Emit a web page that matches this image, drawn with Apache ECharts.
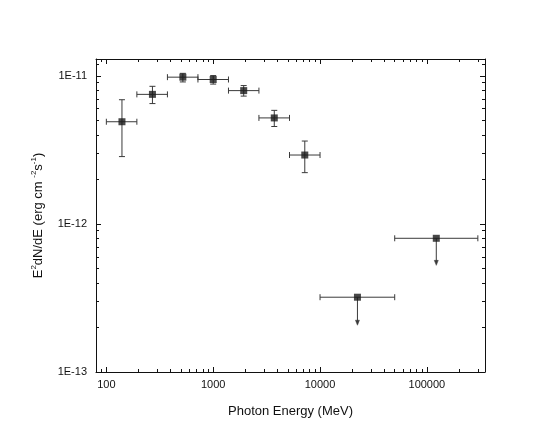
<!DOCTYPE html>
<html>
<head>
<meta charset="utf-8">
<script src="https://cdn.jsdelivr.net/npm/echarts@6/dist/echarts.min.js"></script>
<style>
  html, body { margin: 0; padding: 0; background: #fff; }
  #chart { width: 545px; height: 448px; }
</style>
</head>
<body>
<div id="chart"></div>
<script>
// spectral points (MeV, erg cm^-2 s^-1)
const energy = [140, 270, 520, 1000, 1930, 3730, 7200, 22400, 122500];
const energyLow = [100, 193, 373, 720, 1390, 2680, 5180, 10000, 50000];
const energyHigh = [193, 373, 720, 1390, 2680, 5180, 10000, 50000, 300000];
const flux = [4.9e-12, 7.5e-12, 9.8e-12, 9.45e-12, 7.95e-12, 5.2e-12, 2.92e-12, 3.2e-13, 8.0e-13];
const fluxLow = [2.85e-12, 6.5e-12, 9.1e-12, 8.8e-12, 7.3e-12, 4.55e-12, 2.22e-12, 2.07e-13, 5.25e-13];
const fluxHigh = [6.9e-12, 8.5e-12, 1.04e-11, 1.005e-11, 8.6e-12, 5.85e-12, 3.63e-12, null, null];
const upperLimit = [false, false, false, false, false, false, false, true, true];

// axis ticks
const xMajor = [100, 1000, 10000, 100000];
const xMinor = [80, 90, 200, 300, 400, 500, 600, 700, 800, 900,
  2000, 3000, 4000, 5000, 6000, 7000, 8000, 9000,
  20000, 30000, 40000, 50000, 60000, 70000, 80000, 90000,
  200000, 300000];
const yMajor = [1e-13, 1e-12, 1e-11];
const yMinor = [2e-13, 3e-13, 4e-13, 5e-13, 6e-13, 7e-13, 8e-13, 9e-13,
  2e-12, 3e-12, 4e-12, 5e-12, 6e-12, 7e-12, 8e-12, 9e-12, 1.2e-11];

const X_MIN = 80, X_MAX = 350000;
const Y_MIN = 1e-13, Y_MAX = 1.3e-11;

const FONT = "Liberation Sans, Arial, sans-serif";
const INK = "#111";
const BAR = "#3a3a3a";

const chart = echarts.init(document.getElementById("chart"), null, { renderer: "canvas" });

const makeX = (position, values, len, withLabels, withLine, extra) => Object.assign({
  type: "log",
  logBase: 10,
  min: X_MIN,
  max: X_MAX,
  position: position,
  axisLine: { show: withLine, lineStyle: { color: INK, width: 1 } },
  axisTick: { show: true, inside: true, length: len, customValues: values, lineStyle: { color: INK, width: 1 } },
  axisLabel: withLabels
    ? { show: true, customValues: values, margin: 7, color: INK, fontSize: 11, fontFamily: FONT, formatter: (v) => String(Math.round(v)) }
    : { show: false },
  splitLine: { show: false },
  minorTick: { show: false },
}, extra || {});

const makeY = (position, values, len, withLabels, withLine, extra) => Object.assign({
  type: "log",
  logBase: 10,
  min: Y_MIN,
  max: Y_MAX,
  position: position,
  axisLine: { show: withLine, lineStyle: { color: INK, width: 1 } },
  axisTick: { show: true, inside: true, length: len, customValues: values, lineStyle: { color: INK, width: 1 } },
  axisLabel: withLabels
    ? { show: true, customValues: values, margin: 9, color: INK, fontSize: 11, fontFamily: FONT,
        formatter: (v) => "1E" + Math.round(Math.log10(v)) }
    : { show: false },
  splitLine: { show: false },
  minorTick: { show: false },
}, extra || {});

const points = energy.map((e, i) => [e, flux[i], energyLow[i], energyHigh[i], fluxLow[i], fluxHigh[i], upperLimit[i] ? 1 : 0]);

const renderBars = (params, api) => {
  const c = api.coord([api.value(0), api.value(1)]);
  const l = api.coord([api.value(2), api.value(1)]);
  const r = api.coord([api.value(3), api.value(1)]);
  const lo = api.coord([api.value(0), api.value(4)]);
  const isUL = api.value(6) === 1;
  const style = { stroke: BAR, lineWidth: 1, fill: null };
  const cap = 3;
  const kids = [
    { type: "line", shape: { x1: l[0], y1: c[1], x2: r[0], y2: c[1] }, style },
    { type: "line", shape: { x1: l[0], y1: c[1] - cap, x2: l[0], y2: c[1] + cap }, style },
    { type: "line", shape: { x1: r[0], y1: c[1] - cap, x2: r[0], y2: c[1] + cap }, style },
  ];
  if (isUL) {
    kids.push({ type: "line", shape: { x1: c[0], y1: c[1], x2: c[0], y2: lo[1] - 4 }, style });
    kids.push({
      type: "polygon",
      shape: { points: [[c[0] - 2, lo[1] - 5], [c[0] + 2, lo[1] - 5], [c[0], lo[1]]] },
      style: { fill: BAR, stroke: BAR, lineWidth: 0.5 },
    });
  } else {
    const hi = api.coord([api.value(0), api.value(5)]);
    kids.push({ type: "line", shape: { x1: c[0], y1: hi[1], x2: c[0], y2: lo[1] }, style });
    kids.push({ type: "line", shape: { x1: c[0] - cap, y1: hi[1], x2: c[0] + cap, y2: hi[1] }, style });
    kids.push({ type: "line", shape: { x1: c[0] - cap, y1: lo[1], x2: c[0] + cap, y2: lo[1] }, style });
  }
  return { type: "group", children: kids };
};

const option = {
  backgroundColor: "#fff",
  animation: false,
  grid: { left: 96, right: 60, top: 59, bottom: 76, containLabel: false },
  xAxis: [
    makeX("bottom", xMajor, 5, true, true, {
      name: "Photon Energy (MeV)",
      nameLocation: "middle",
      nameGap: 33,
      nameTextStyle: { fontSize: 13, color: INK, fontFamily: FONT },
    }),
    makeX("bottom", xMinor, 3, false, false),
    makeX("top", xMajor, 5, false, true),
    makeX("top", xMinor, 3, false, false),
  ],
  yAxis: [
    makeY("left", yMajor, 5, true, true, {
      name: "{n|E}{s|2}{n|dN/dE (erg cm }{s|-2}{n|s}{s|-1}{n|)}",
      nameLocation: "middle",
      nameGap: 50,
      nameTextStyle: {
        fontSize: 13, color: INK, fontFamily: FONT,
        rich: {
          n: { fontSize: 13, color: INK, fontFamily: FONT },
          s: { fontSize: 8, color: INK, fontFamily: FONT, padding: [0, 0, 8, 0] },
        },
      },
    }),
    makeY("left", yMinor, 3, false, false),
    makeY("right", yMajor, 5, false, true),
    makeY("right", yMinor, 3, false, false),
  ],
  series: [
    {
      type: "custom",
      xAxisIndex: 0,
      yAxisIndex: 0,
      renderItem: renderBars,
      data: points,
      z: 3,
      silent: true,
    },
    {
      type: "scatter",
      xAxisIndex: 0,
      yAxisIndex: 0,
      symbol: "rect",
      symbolSize: 7,
      itemStyle: { color: "#1a1a1a" },
      data: energy.map((e, i) => [e, flux[i]]),
      z: 4,
      silent: true,
    },
  ],
};

chart.setOption(option);
</script>
</body>
</html>
